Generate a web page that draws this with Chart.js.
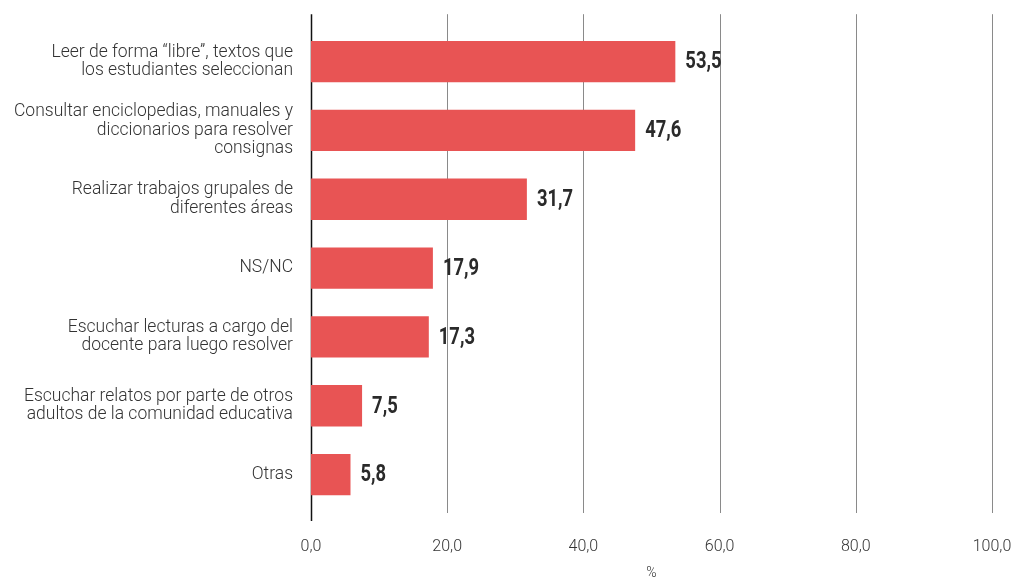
<!DOCTYPE html>
<html>
<head>
<meta charset="utf-8">
<script src="https://cdn.jsdelivr.net/npm/chart.js@4"></script>
<style>
  html, body { margin: 0; padding: 0; background: #fff; }
  #wrap { width: 1011px; height: 578px; }
</style>
</head>
<body>
<div id="wrap"><canvas id="myChart"></canvas></div>
<script>
const categories = [
  ['Leer de forma “libre”, textos que', 'los estudiantes seleccionan'],
  ['Consultar enciclopedias, manuales y', 'diccionarios para resolver', 'consignas'],
  ['Realizar trabajos grupales de', 'diferentes áreas'],
  'NS/NC',
  ['Escuchar lecturas a cargo del', 'docente para luego resolver'],
  ['Escuchar relatos por parte de otros', 'adultos de la comunidad educativa'],
  'Otras'
];
const values = [53.5, 47.6, 31.7, 17.9, 17.3, 7.5, 5.8];
const xTicks = [0, 20, 40, 60, 80, 100];

const fmt = v => v.toFixed(1).replace('.', ',');

// vertical grid lines, a bit longer than the plot area
const gridLines = {
  id: 'gridLines',
  beforeDatasetsDraw(chart) {
    const { ctx, chartArea, scales } = chart;
    ctx.save();
    xTicks.forEach(t => {
      const x = Math.round(scales.x.getPixelForValue(t)) + 0.5;
      ctx.beginPath();
      if (t === 0) {
        ctx.strokeStyle = '#111';
        ctx.lineWidth = 1.5;
        ctx.moveTo(x, chartArea.top - 13);
        ctx.lineTo(x, chartArea.bottom + 12);
      } else {
        ctx.strokeStyle = '#8a8a8a';
        ctx.lineWidth = 1;
        ctx.moveTo(x, chartArea.top - 13);
        ctx.lineTo(x, chartArea.bottom + 4);
      }
      ctx.stroke();
    });
    ctx.restore();
  }
};

const valueLabels = {
  id: 'valueLabels',
  afterDatasetsDraw(chart) {
    const { ctx } = chart;
    const meta = chart.getDatasetMeta(0);
    meta.data.forEach((bar, i) => {
      ctx.save();
      ctx.translate(bar.x + 10, bar.y + 1);
      ctx.scale(0.8, 1);
      ctx.fillStyle = '#2a2a2a';
      ctx.font = 'bold 23px Roboto, sans-serif';
      ctx.textBaseline = 'middle';
      ctx.textAlign = 'left';
      ctx.fillText(fmt(values[i]), 0, 0);
      ctx.restore();
    });
  }
};

const ctx = document.getElementById('myChart').getContext('2d');
new Chart(ctx, {
  type: 'bar',
  data: {
    labels: categories,
    datasets: [{
      data: values,
      backgroundColor: '#e85454',
      barPercentage: 0.6,
      categoryPercentage: 1
    }]
  },
  options: {
    indexAxis: 'y',
    responsive: true,
    maintainAspectRatio: false,
    animation: false,
    layout: { padding: { top: 27, right: 0, bottom: 0, left: 0 } },
    plugins: {
      legend: { display: false },
      tooltip: { enabled: false }
    },
    scales: {
      x: {
        min: 0,
        max: 100,
        afterBuildTicks: s => { s.ticks = xTicks.map(v => ({ value: v })); },
        afterFit: s => { s.height = 69; s.paddingRight = 19; },
        grid: { display: false, drawTicks: false },
        border: { display: false },
        ticks: {
          padding: 28,
          maxRotation: 0,
          color: '#333',
          font: { family: 'Roboto', size: 16, weight: 300 },
          callback: v => fmt(v)
        },
        title: {
          display: true,
          text: '%',
          color: '#333',
          font: { family: 'Roboto', size: 14, weight: 300 },
          padding: { top: 4, bottom: -4 }
        }
      },
      y: {
        grid: { display: false, drawTicks: false },
        border: { display: false },
        afterFit: s => { s.width = 311; },
        ticks: {
          padding: 18,
          color: '#333',
          font: { family: 'Roboto', size: 17.5, weight: 300, lineHeight: 1.05 }
        }
      }
    }
  },
  plugins: [gridLines, valueLabels]
});
</script>
</body>
</html>
